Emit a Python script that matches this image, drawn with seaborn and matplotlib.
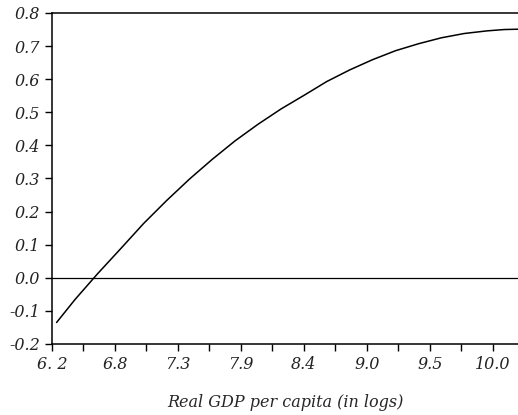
import seaborn as sns
import matplotlib.pyplot as plt
import pandas as pd

# values
gdp_log = [6.24, 6.40, 6.60, 6.80, 7.00, 7.20, 7.40, 7.60, 7.80, 8.00, 8.20,
           8.40, 8.60, 8.80, 9.00, 9.20, 9.40, 9.60, 9.80, 10.00, 10.15, 10.27]
effect = [-0.135, -0.066, 0.013, 0.088, 0.164, 0.233, 0.298, 0.358, 0.414, 0.464, 0.510,
          0.551, 0.593, 0.628, 0.659, 0.686, 0.707, 0.725, 0.738, 0.746, 0.750, 0.751]

x_tick_pos = [6.2, 6.75, 7.3, 7.85, 8.4, 8.95, 9.5, 10.05]
x_tick_labels = ["6. 2", "6.8", "7.3", "7.9", "8.4", "9.0", "9.5", "10.0"]
y_ticks = [-0.2, -0.1, 0.0, 0.1, 0.2, 0.3, 0.4, 0.5, 0.6, 0.7, 0.8]

df = pd.DataFrame({"gdp": gdp_log, "effect": effect})

sns.set_style("ticks")
plt.rcParams["font.family"] = ["DejaVu Serif"]
plt.rcParams["font.style"] = "italic"

fig = plt.figure(figsize=(5.18, 4.15), dpi=100)
ax = fig.add_axes([0.1004, 0.1711, 0.8996, 0.7976])

sns.lineplot(data=df, x="gdp", y="effect", color="black", linewidth=1.1, ax=ax)
ax.axhline(0, color="black", linewidth=0.9)

ax.set_xlim(6.2, 10.27)
ax.set_ylim(-0.2, 0.8)
ax.set_xticks(x_tick_pos)
ax.set_xticklabels(x_tick_labels, fontstyle="italic")
ax.set_xticks([p + 0.275 for p in x_tick_pos[:-1]], minor=True)
ax.set_yticks(y_ticks)
ax.set_yticklabels([f"{v:.1f}" for v in y_ticks], fontstyle="italic")

ax.tick_params(axis="both", which="both", direction="out", length=5, width=1,
               color="black", labelsize=11.5, labelcolor="#222222")
ax.tick_params(axis="x", pad=4)

for side in ["left", "bottom", "top"]:
    ax.spines[side].set_color("black")
    ax.spines[side].set_linewidth(1.1)
ax.spines["right"].set_visible(False)

ax.set_ylabel("")
ax.set_xlabel("Real GDP per capita (in logs)", fontsize=11.5, fontstyle="italic",
              labelpad=15)

fig.savefig("out.png", dpi=100)
